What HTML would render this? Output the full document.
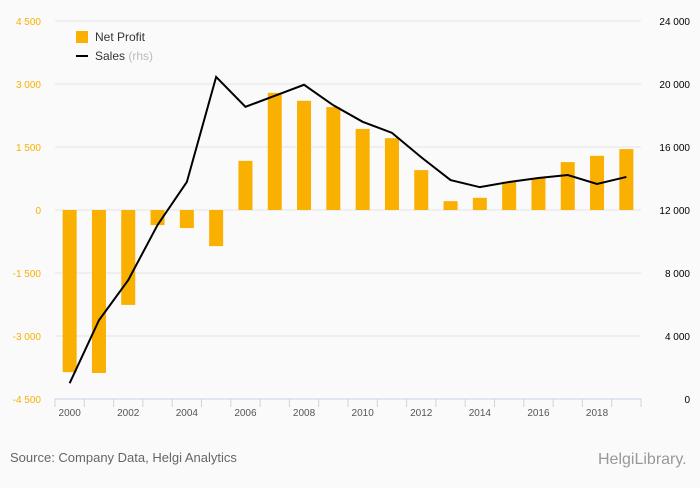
<!DOCTYPE html>
<html><head><meta charset="utf-8"><style>
body{margin:0;background:#fafafa;font-family:"Liberation Sans",sans-serif;}
svg text{font-family:"Liberation Sans",sans-serif;}
</style></head><body>
<svg id="c" width="700" height="483">
<rect width="700" height="483" fill="#fafafa"/>
<g id="grid"></g><g id="bars"></g><g id="line"></g><g id="axes"></g>
<g>
<rect x="76" y="31" width="12" height="12" fill="#f9b000"/>
<text x="95" y="41" font-size="12" fill="#333">Net Profit</text>
<rect x="76" y="55" width="12" height="2" fill="#000"/>
<text x="95" y="60" font-size="12" fill="#333">Sales <tspan fill="#bbb">(rhs)</tspan></text>
</g>
<text x="10" y="462" font-size="13" fill="#666">Source: Company Data, Helgi Analytics</text>
<text x="598" y="464" font-size="16" fill="#999">HelgiLibrary.</text>
</svg>
<script>
const years=[2000,2001,2002,2003,2004,2005,2006,2007,2008,2009,2010,2011,2012,2013,2014,2015,2016,2017,2018,2019];
const netProfit=[-3860,-3880,-2260,-360,-430,-860,1170,2790,2600,2450,1930,1710,950,210,290,670,760,1140,1290,1450];
const sales=[1000,5000,7550,11050,13780,20450,18550,19250,19950,18650,17600,16900,15350,13900,13450,13780,14030,14220,13650,14100];
const leftTicks=[-4500,-3000,-1500,0,1500,3000,4500];
const rightTicks=[0,4000,8000,12000,16000,20000,24000];
const NS='http://www.w3.org/2000/svg';
const X0=55,X1=641,Y0=21,Y1=399;
const step=(X1-X0)/years.length;
function xC(i){return X0+step*(i+0.5);}
function yL(v){return Y1-(v+4500)/9000*(Y1-Y0);}
function yR(v){return Y1-v/24000*(Y1-Y0);}
function fmt(v){const s=Math.abs(v).toString().replace(/\B(?=(\d{3})+(?!\d))/g,' ');return (v<0?'-':'')+s;}
function mk(tag,attrs,parent){const e=document.createElementNS(NS,tag);for(const k in attrs)e.setAttribute(k,attrs[k]);document.getElementById(parent).appendChild(e);return e;}
leftTicks.forEach((t,i)=>{
  const y=yL(t);
  if(i>0){const g=mk('line',{x1:X0,x2:X1,y1:y,y2:y,stroke:'#e4e4e4'},'grid');
  
  }
  const l=mk('text',{x:41,y:y+4,'font-size':10,fill:'#f9b000','text-anchor':'end'},'axes');l.textContent=fmt(t);
  
  
});
rightTicks.forEach(t=>{
  const y=yR(t);
  const l=mk('text',{x:690,y:y+4,'font-size':10,fill:'#000','text-anchor':'end'},'axes');l.textContent=fmt(t);
  
  
});
const ax=mk('line',{x1:X0,x2:X1,y1:Y1,y2:Y1,stroke:'#c8d4e6'},'axes');


for(let i=0;i<=years.length;i++){
  const tx=X0+step*i;
  const tk=mk('line',{x1:tx,x2:tx,y1:Y1,y2:Y1+8,stroke:'#c8d4e6'},'axes');
  
  
}
years.forEach((yr,i)=>{
  if(i%2===0){const l=mk('text',{x:xC(i),y:416,'font-size':10,fill:'#555','text-anchor':'middle'},'axes');l.textContent=yr;
  
  }
  const v=netProfit[i],y0=yL(0),y=yL(v);
  const b=mk('rect',{x:xC(i)-7,y:Math.min(y,y0),width:14,height:Math.abs(y-y0),fill:'#f9b000'},'bars');
  
  
});
const pts=sales.map((v,i)=>xC(i)+','+yR(v)).join(' ');
const pl=mk('polyline',{points:pts,fill:'none',stroke:'#000','stroke-width':2},'line');


</script>
</body></html>
